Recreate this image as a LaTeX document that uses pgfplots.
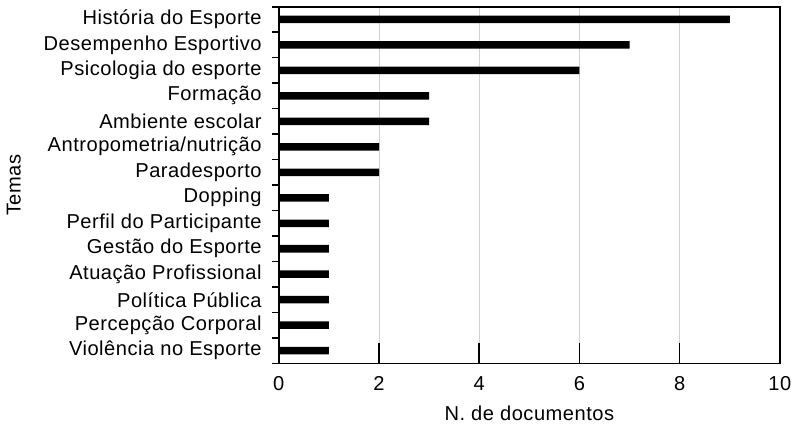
\documentclass[border=0pt]{standalone}
\usepackage{fontspec}
\setmainfont{Liberation Sans}[LetterSpace=2.5]
\usepackage{pgfplots}
\pgfplotsset{compat=1.18}
\begin{document}
\fontsize{19.5}{23}\selectfont
\begin{tikzpicture}
\begin{axis}[
  scale only axis,
  width=486pt, height=346pt,
  axis x line*=bottom, axis y line*=left,
  axis line style={black, line width=1.6pt, -},
  xbar, bar width=7.3pt,
  xmin=0, xmax=10,
  ymin=-0.5, ymax=13.5,
  xtick={0,2,...,10},
  ytick={-0.5,0.5,...,13.5},
  yticklabels={},
  extra y ticks={0,...,13},
  extra y tick labels={Violência no Esporte,Percepção Corporal,Política Pública,Atuação Profissional,Gestão do Esporte,Perfil do Participante,Dopping,Paradesporto,Antropometria/nutrição,Ambiente escolar,Formação,Psicologia do esporte,Desempenho Esportivo,História do Esporte},
  extra y tick style={major tick length=0pt, yticklabel style={xshift=-10pt}},
  xtick align=inside, ytick align=outside,
  major tick length=7pt,
  tick style={black, line width=1.6pt},
  xmajorgrids, major x grid style={gray!35, line width=1pt},
  /pgf/number format/assume math mode=true,
  xticklabel style={yshift=-6pt},
  xlabel={N. de documentos},
  ylabel={Temas},
  xlabel style={yshift=-2pt},
  ylabel style={yshift=2pt},
  tick label style={font=\fontsize{19.5}{23}\selectfont},
  label style={font=\fontsize{19.5}{23}\selectfont},
  clip=false,
]
\addplot[fill=black, draw=none] coordinates {
 (1,0) (1,1) (1,2) (1,3) (1,4) (1,5) (1,6) (2,7) (2,8) (3,9) (3,10) (6,11) (7,12) (9,13)};
\draw[black, line width=1.6pt] (rel axis cs:0,0) rectangle (rel axis cs:1,1);
\pgfplotsinvokeforeach{2,4,6,8}{
  \draw[black, line width=1.6pt] (axis cs:#1,-0.5) -- ++(0,7pt);
}
\end{axis}
\end{tikzpicture}
\end{document}
